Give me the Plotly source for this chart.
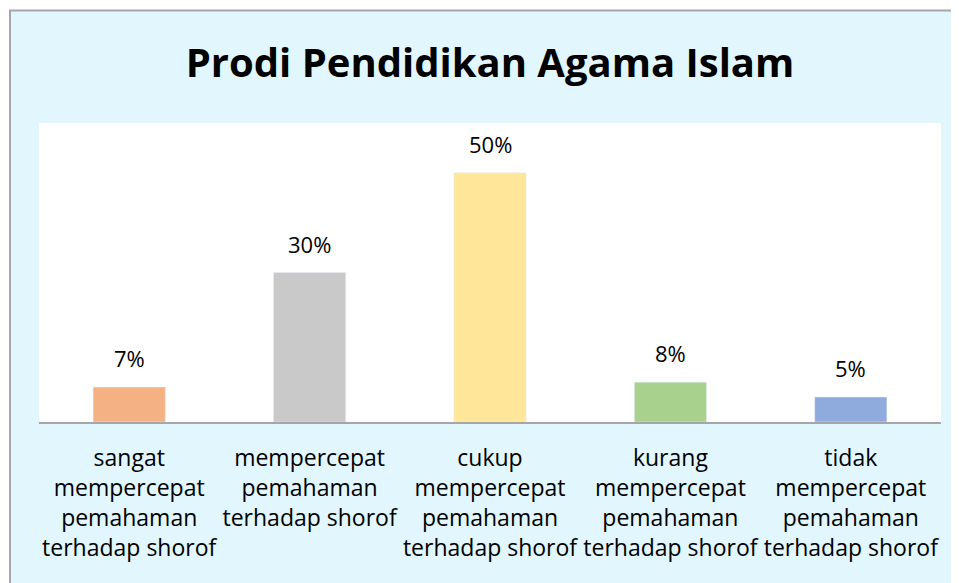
import plotly.graph_objects as go

categories = [
    "sangat<br>mempercepat<br>pemahaman<br>terhadap shorof",
    "mempercepat<br>pemahaman<br>terhadap shorof",
    "cukup<br>mempercepat<br>pemahaman<br>terhadap shorof",
    "kurang<br>mempercepat<br>pemahaman<br>terhadap shorof",
    "tidak<br>mempercepat<br>pemahaman<br>terhadap shorof",
]
values = [0.07, 0.30, 0.50, 0.08, 0.05]
labels = ["7%", "30%", "50%", "8%", "5%"]
colors = ["#F4B183", "#C9C9C9", "#FFE699", "#A9D18E", "#8FAADC"]

# page has an 8px body margin, so the figure is 8px smaller than the window
OFF = 8
W, H = 959 - OFF, 583 - OFF
L, R, T, B = 39 - OFF, 18, 123 - OFF, 161
pw, ph = W - L - R, H - T - B

def px_x(p):
    return (p - OFF - L) / pw

def px_y(p):
    return (H - B - (p - OFF)) / ph

FONT = "Open Sans"

fig = go.Figure(go.Bar(
    x=categories, y=values, marker_color=colors, width=0.4,
    hoverinfo="skip",
))

for c, v, t in zip(categories, values, labels):
    fig.add_annotation(x=c, y=v, text=t, showarrow=False, yanchor="bottom",
                       yshift=12, font=dict(size=22, color="#000000", family=FONT))

fig.update_layout(
    width=W, height=H,
    margin=dict(l=L, r=R, t=T, b=B),
    paper_bgcolor="white", plot_bgcolor="white",
    title=dict(text="<b>Prodi Pendidikan Agama Islam</b>", x=0.5, xanchor="center",
               xref="paper",
               y=1 - (63 - OFF) / H, yanchor="middle",
               font=dict(size=40, color="#000000", family=FONT)),
    font=dict(family=FONT, color="#000000"),
    showlegend=False,
    shapes=[
        dict(type="rect", xref="paper", yref="paper", layer="below",
             x0=px_x(10), x1=px_x(1000), y0=px_y(700), y1=px_y(10.5),
             fillcolor="#E2F6FE", line=dict(color="#A6A6A6", width=2)),
        dict(type="rect", xref="paper", yref="paper", layer="below",
             x0=0, x1=1, y0=0, y1=1, fillcolor="white", line=dict(width=0)),
    ],
)
fig.update_xaxes(showline=True, linecolor="#A6A6A6", linewidth=1.5, ticks="",
                 tickfont=dict(size=23, color="#000000", family=FONT),
                 ticklabelstandoff=15, fixedrange=True)
fig.update_yaxes(range=[0, 0.6], visible=False, showgrid=False, fixedrange=True)

fig.write_html("out.html")
